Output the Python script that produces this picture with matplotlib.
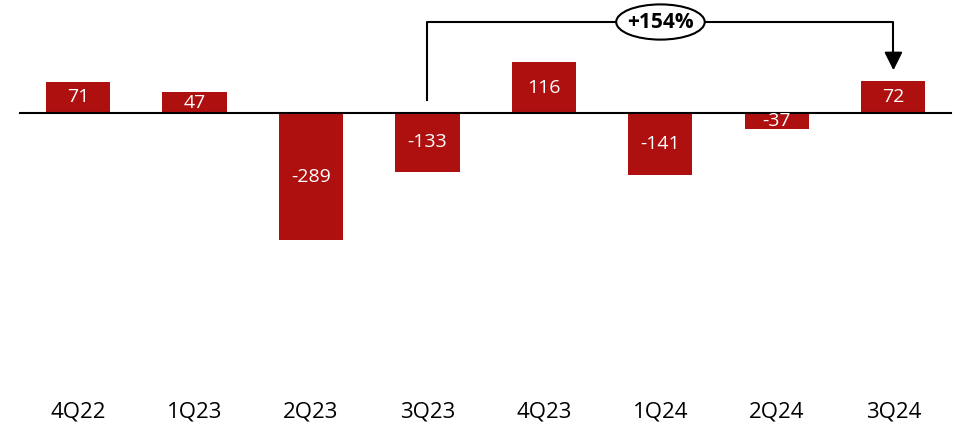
import matplotlib
matplotlib.use('Agg')
import matplotlib.pyplot as plt
from matplotlib.patches import Ellipse
import numpy as np

quarters = ['4Q22', '1Q23', '2Q23', '3Q23', '4Q23', '1Q24', '2Q24', '3Q24']
values = [71, 47, -289, -133, 116, -141, -37, 72]
change_label = '+154%'
start_idx, end_idx = 3, 7

bar_color = '#AE1010'
plt.rcParams['font.family'] = ['Open Sans', 'DejaVu Sans']

fig = plt.figure(figsize=(9.54, 4.30), dpi=100)
ax = fig.add_axes([0, 0, 1, 1])
x = np.arange(len(quarters))

ax.bar(x, values, width=0.55, color=bar_color, zorder=2)
ax.plot([-0.5, 7.49], [0, 0], color='black', lw=1.5, zorder=3)

# value labels in the middle of each bar
for xi, v in zip(x, values):
    ax.text(xi, v / 2, str(v), ha='center', va='center',
            color='white', fontsize=14, zorder=4)

# quarter labels along the bottom
for xi, q in zip(x, quarters):
    ax.text(xi, -680, q, ha='center', va='center', color='black', fontsize=16)

# bracket showing change from 3Q23 to 3Q24
top = 207
mid = (start_idx + end_idx) / 2
ax.plot([start_idx, start_idx, end_idx, end_idx],
        [30, top, top, 108], color='black', lw=1.5, zorder=3)
ax.annotate('', xy=(end_idx, 91), xytext=(end_idx, 115),
            arrowprops=dict(arrowstyle='-|>,head_length=1.1,head_width=0.55',
                            color='black', lw=1.5))
ax.add_patch(Ellipse((mid, top), 0.76, 80, fc='white', ec='black', lw=1.5, zorder=5))
ax.text(mid, top, change_label, ha='center', va='center',
        fontsize=15, fontweight='bold', color='black', zorder=6)

ax.set_xlim(-0.67, 7.52)
ax.set_ylim(-720, 257)
ax.axis('off')

fig.savefig('out.png', dpi=100)
